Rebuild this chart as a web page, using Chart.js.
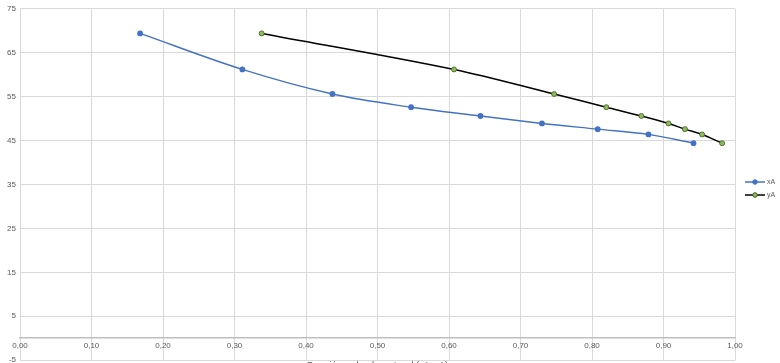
<!DOCTYPE html>
<html>
<head>
<meta charset="utf-8">
<script src="https://cdn.jsdelivr.net/npm/chart.js@4/dist/chart.umd.min.js"></script>
<style>
  html, body { margin: 0; padding: 0; background: #fff; overflow: hidden; }
</style>
</head>
<body>
<canvas id="chart" width="780" height="369"></canvas>
<script>
// temperatures (shared y values)
const temps = [69.4, 61.2, 55.6, 52.6, 50.6, 48.9, 47.6, 46.4, 44.4];
// liquid and vapour fractions
const xA = [0.168, 0.311, 0.437, 0.547, 0.644, 0.730, 0.808, 0.879, 0.942];
const yA = [0.338, 0.607, 0.747, 0.820, 0.869, 0.907, 0.930, 0.954, 0.982];
const yTicks = [-5, 5, 15, 25, 35, 45, 55, 65, 75];
const seriesNames = ['xA', 'yA'];

const tickColor = '#595959';
const gridColor = '#d9d9d9';

const legendPlugin = {
    id: 'sideLegend',
    afterDraw(chart) {
        const ctx = chart.ctx;
        const x0 = 755;
        chart.data.datasets.forEach((ds, i) => {
            const y = 182 + i * 13;
            ctx.save();
            ctx.strokeStyle = ds.borderColor;
            ctx.lineWidth = 1.5;
            ctx.beginPath();
            ctx.moveTo(x0 - 10, y);
            ctx.lineTo(x0 + 10, y);
            ctx.stroke();
            ctx.fillStyle = ds.pointBackgroundColor;
            ctx.strokeStyle = ds.pointBorderColor;
            ctx.lineWidth = 1;
            ctx.beginPath();
            ctx.arc(x0, y, 2.3, 0, Math.PI * 2);
            ctx.fill();
            ctx.stroke();
            ctx.fillStyle = tickColor;
            ctx.font = '7px "Liberation Sans", Arial, sans-serif';
            ctx.textBaseline = 'middle';
            ctx.fillText(ds.label, x0 + 12, y);
            ctx.restore();
        });
    }
};

new Chart(document.getElementById('chart'), {
    type: 'scatter',
    data: {
        datasets: [{
            label: seriesNames[0],
            data: xA.map((v, i) => ({ x: v, y: temps[i] })),
            showLine: true,
            borderColor: '#4472c4',
            borderWidth: 1.4,
            pointBackgroundColor: '#4472c4',
            pointBorderColor: '#4472c4',
            pointRadius: 2.2,
            tension: 0.35
        }, {
            label: seriesNames[1],
            data: yA.map((v, i) => ({ x: v, y: temps[i] })),
            showLine: true,
            borderColor: '#000000',
            borderWidth: 1.5,
            pointBackgroundColor: '#8fbc5a',
            pointBorderColor: '#3d5a1e',
            pointBorderWidth: 0.8,
            pointRadius: 2.5,
            tension: 0.35
        }]
    },
    options: {
        responsive: false,
        animation: false,
        devicePixelRatio: 1,
        layout: { padding: { top: 4, right: 45, bottom: 1, left: 0 } },
        plugins: {
            legend: { display: false },
            tooltip: { enabled: false }
        },
        scales: {
            x: {
                type: 'linear',
                position: { y: 0 },
                min: 0,
                max: 1,
                ticks: {
                    stepSize: 0.1,
                    color: tickColor,
                    font: { size: 8, family: '"Liberation Sans", Arial, sans-serif' },
                    padding: 3,
                    callback: v => v.toFixed(2).replace('.', ',')
                },
                grid: { color: gridColor, drawTicks: false },
                border: { color: '#bfbfbf', width: 1.5 },
                title: {
                    display: true,
                    text: 'Fracción molar de metanol (xA, yA)',
                    color: tickColor,
                    font: { size: 9, family: '"Liberation Sans", Arial, sans-serif' },
                    padding: { top: 6 }
                }
            },
            y: {
                min: -5,
                max: 75,
                afterBuildTicks: axis => { axis.ticks = yTicks.map(v => ({ value: v })); },
                afterFit: axis => { axis.width = 20; },
                ticks: {
                    color: tickColor,
                    font: { size: 8, family: '"Liberation Sans", Arial, sans-serif' },
                    padding: 4
                },
                grid: { color: gridColor, drawTicks: false },
                border: { display: false }
            }
        }
    },
    plugins: [legendPlugin]
});
</script>
</body>
</html>
